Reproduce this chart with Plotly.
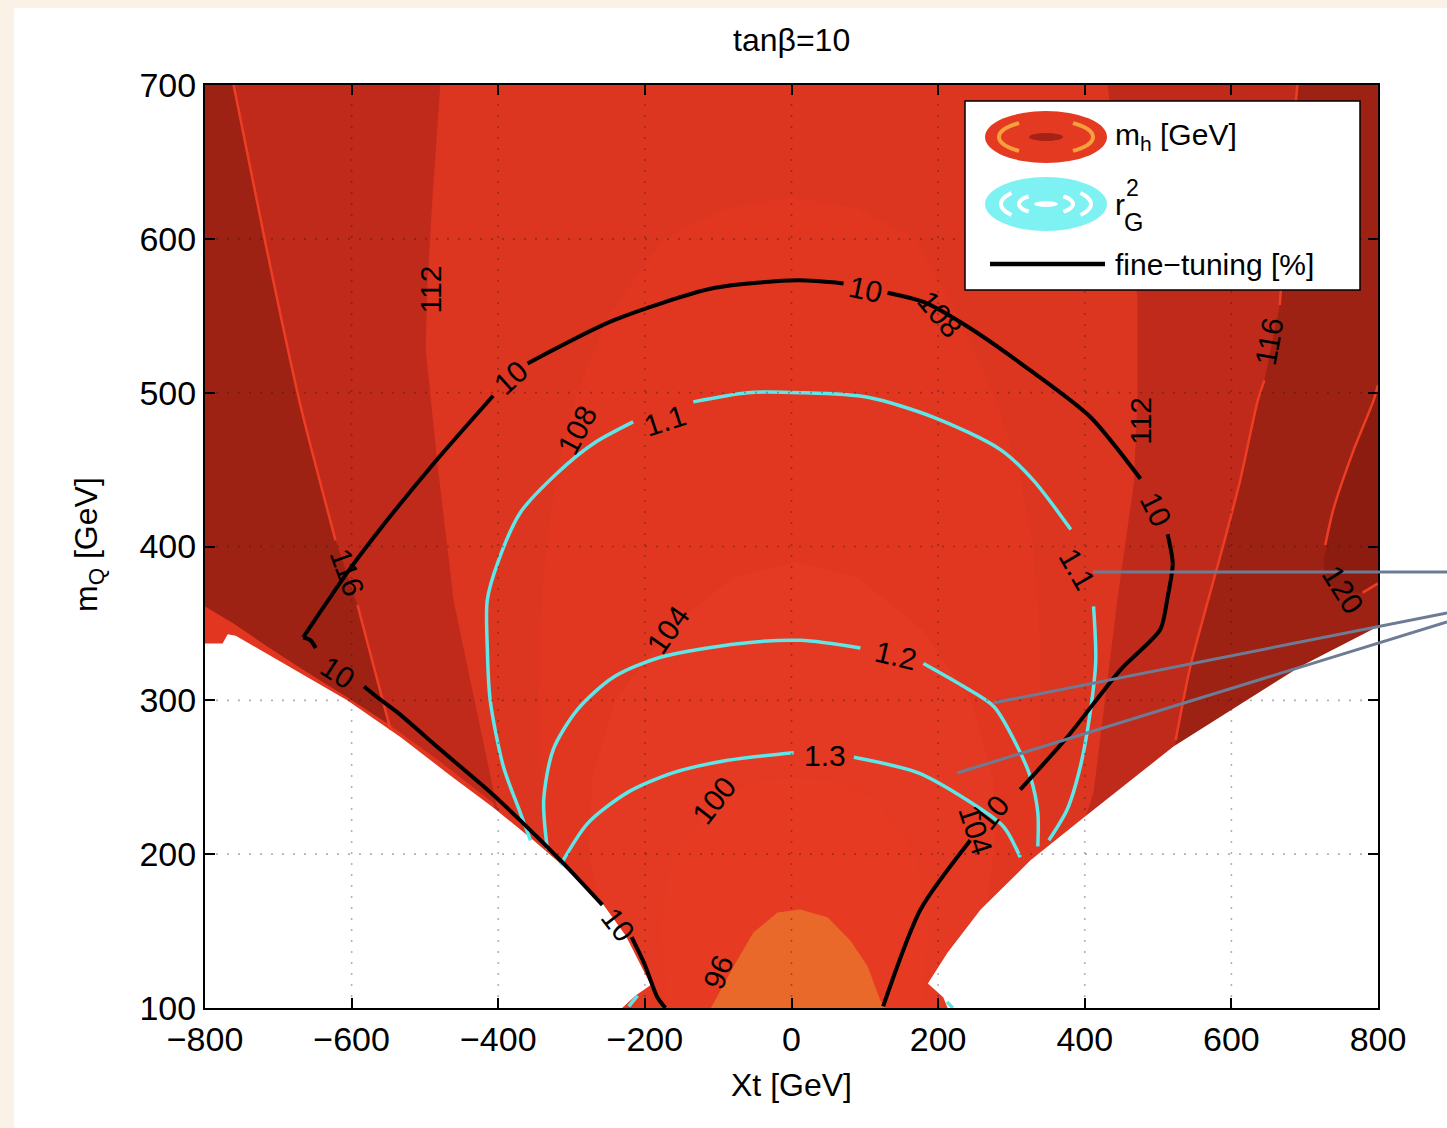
import math
import plotly.graph_objects as go

# ---------------- axis ticks ----------------
x_ticks = [-800, -600, -400, -200, 0, 200, 400, 600, 800]
y_ticks = [100, 200, 300, 400, 500, 600, 700]
x_range = [-800, 800]
y_range = [100, 700]

# ---------------- m_h iso-contours (Xt [GeV], m_Q [GeV]) ----------------
mh96_xt = [-110, -79, -52, -19, 12, 49, 80, 104, 121, 128]
mh96_mq = [100, 127, 149, 162, 164, 159, 144, 127, 105, 100]

mh100_xt = [-168, -180, -163, -104, -50, 5, 60, 115, 170, 187, 178]
mh100_mq = [100, 150, 200, 235, 247, 250, 247, 235, 200, 150, 100]

mh104_xt = [-262, -276, -272, -240, -168, -80, 5, 90, 178, 245, 275, 278, 268]
mh104_mq = [168, 200, 250, 300, 346, 380, 390, 380, 346, 300, 250, 210, 172]

mh108_xt = [-335, -342, -345, -343, -335, -320, -293, -250, -175, -90, 0,
            90, 170, 228, 275, 310, 330, 338, 340, 340, 340]
mh108_mq = [205, 250, 300, 350, 400, 450, 500, 550, 600, 620, 627,
            620, 600, 550, 500, 450, 400, 350, 300, 250, 205]

mh112_left_xt = [-479, -490, -497, -499, -483, -461, -447, -411, -401]
mh112_left_mq = [700, 625, 567, 528, 454, 365, 333, 250, 229]
mh112_right_xt = [401, 412, 431, 445, 467, 472, 472, 452, 431]
mh112_right_mq = [224, 240, 313, 367, 441, 495, 562, 625, 700]

mh116_left_xt = [-761, -717, -670, -622, None, -592, -547]
mh116_left_mq = [700, 596, 492, 404, None, 362, 281]
mh116_right_xt = [524, 544, 589, 612, 636, 645, None, 666, 676, 690]
mh116_right_mq = [274, 322, 401, 443, 495, 508, None, 557, 625, 700]

mh120_xt = [800, 794, 767, 739, 728, None, 779, 800]
mh120_mq = [505, 495, 463, 424, 401, None, 370, 376]
mh120_closed_xt = [800, 794, 767, 739, 726, 728, 749, 776, 800]
mh120_closed_mq = [505, 495, 463, 424, 391, 378, 370, 370, 375]

# ---------------- region without solutions ----------------
void_left_xt = [-800, -800, -776, -769, -758, -670, -606, -533, -465, -406,
                -352, -301, -261, -226, -199, -192, -213, -231]
void_left_mq = [100, 337, 337, 343, 342, 318, 300, 276, 251, 230,
                209, 188, 170, 147, 121, 115, 108, 100]
void_right_xt = [800, 800, 694, 521, 394, 326, 258, 213, 186, 207, 213]
void_right_mq = [100, 348, 322, 270, 222, 196, 164, 136, 116, 107, 100]
edge_left_xt = [-800, -761, -715, -670, -606, -551, -479, -406, -406, -800]
edge_left_mq = [361, 350, 335, 321, 302, 285, 260, 233, 100, 100]

# ---------------- r_G^2 contours ----------------
rg11_xt = [-356, -370, -393, -411, -415, -415, -401, -370, -319, -270, -216, None,
           -134, -60, 12, 104, 194, 285, 330, 381, None,
           412, 415, 408, 394, 376, 351, None, -222, -210, None, 212, 220]
rg11_mq = [209, 227, 257, 300, 335, 365, 389, 422, 448, 467, 481, None,
           494, 500, 500, 497, 484, 463, 443, 411, None,
           361, 326, 294, 257, 229, 209, None, 101, 108, None, 104, 100]
rg12_xt = [-333, -338, -325, -292, -243, -179, -70, 12, 94, None,
           180, 235, 276, 308, 326, 336, 336]
rg12_mq = [203, 235, 268, 294, 315, 328, 337, 339, 334, None,
           324, 309, 296, 270, 250, 227, 205]
rg13_xt = [-315, -278, -224, -161, -87, 3, None, 85, 172, 240, 289, 312]
rg13_mq = [193, 220, 240, 253, 261, 266, None, 263, 253, 235, 218, 198]

# ---------------- fine-tuning 10% contour ----------------
ft10_xt = [-172, -183, -200, -218, None, -258, -311, -370, -415, -479, -537, -565, -583, None,
           -649, -656, -666, None, -666, -606, -565, -488, -407, None,
           -360, -243, -106, 8, 71, None, 131, 180, 240, 330, 408, 476, None,
           513, 520, 513, 503, 449, 376, 312, None, 244, 176, 125]
ft10_mq = [100, 107, 128, 146, None, 167, 194, 222, 242, 268, 292, 302, 309, None,
           334, 339, 341, None, 341, 383, 409, 454, 498, None,
           519, 547, 568, 573, 571, None, 565, 559, 543, 513, 484, 444, None,
           408, 389, 367, 346, 320, 276, 242, None, 209, 164, 101]

# ---------------- contour labels ----------------
mh_lab_text = ["112", "112", "116", "116", "120", "108", "108", "104", "104", "100", "96"]
mh_lab_xt = [-492, 476, 652, -606, 752, -292, 203, -168, 251, -106, -100]
mh_lab_mq = [567, 482, 533, 383, 372, 476, 551, 346, 216, 235, 123]
mh_lab_ang = [-90, -90, -80, 70, 58, -62, 50, -55, 72, -52, -68]

ft_lab_xt = [-383, 101, 497, -619, -237, 274]
ft_lab_mq = [510, 567, 424, 318, 154, 227]
ft_lab_ang = [-42, 12, 63, 33, 52, -52]

rg_lab_text = ["1.1", "1.1", "1.2", "1.3"]
rg_lab_xt = [-172, 390, 142, 46]
rg_lab_mq = [482, 385, 329, 264]
rg_lab_ang = [-18, 60, 13, 0]

# ---------------- colours ----------------
C_GT120 = "#8c1c10"
C_116 = "#9e2214"
C_112 = "#c02a1a"
C_108 = "#dc3520"
C_104 = "#e13721"
C_100 = "#e43922"
C_96 = "#e63b22"
C_LT96 = "#e8692a"
C_LINE = "#ee3d24"
CYAN = "#5fe6e8"
FONT = "Liberation Sans, Arial, sans-serif"

# figure geometry in pixels
W, H = 1447, 1128
ML, MR, MT, MB = 205, 69, 85, 120
PW, PH = W - ML - MR, H - MT - MB


def fx(p):
    return (p - ML) / PW


def fy(p):
    return (H - MB - p) / PH


fig = go.Figure()


def region(xs, ys, color):
    fig.add_trace(go.Scatter(x=xs, y=ys, mode="lines", fill="toself",
                             fillcolor=color, line=dict(width=0, color=color),
                             hoverinfo="skip", showlegend=False))


def curve(xs, ys, color, width, smooth=0.0):
    line = dict(color=color, width=width)
    if smooth:
        line.update(shape="spline", smoothing=smooth)
    fig.add_trace(go.Scatter(x=xs, y=ys, mode="lines", connectgaps=False,
                             line=line, hoverinfo="skip", showlegend=False))


# filled m_h bands, outermost first
region([x_range[0], x_range[1], x_range[1], x_range[0]],
       [y_range[0], y_range[0], y_range[1], y_range[1]], C_116)
region(mh120_closed_xt, mh120_closed_mq, C_GT120)
lx = [v for v in mh116_left_xt if v is not None]
ly = [v for v in mh116_left_mq if v is not None]
rx = [v for v in mh116_right_xt if v is not None]
ry = [v for v in mh116_right_mq if v is not None]
region(lx + [lx[-1], rx[0]] + rx, ly + [100, 100] + ry, C_112)
region(mh112_left_xt + [mh112_left_xt[-1], mh112_right_xt[0]] + mh112_right_xt,
       mh112_left_mq + [100, 100] + mh112_right_mq, C_108)
region(mh108_xt + [mh108_xt[-1], mh108_xt[0]], mh108_mq + [100, 100], C_104)
region(mh104_xt + [mh104_xt[-1], mh104_xt[0]], mh104_mq + [100, 100], C_100)
region(mh100_xt, mh100_mq, C_96)
region(mh96_xt, mh96_mq, C_LT96)

# boundary of the allowed region
region(edge_left_xt, edge_left_mq, "#e23620")
region(void_left_xt, void_left_mq, "white")
region(void_right_xt, void_right_mq, "white")

# thin iso-lines of the heavy bands
curve(mh116_left_xt, mh116_left_mq, C_LINE, 2.5, 0.6)
curve(mh116_right_xt, mh116_right_mq, C_LINE, 2.5, 0.6)
curve(mh120_xt, mh120_mq, C_LINE, 2.5, 0.6)

# r_G^2 and fine-tuning contours
curve(rg11_xt, rg11_mq, CYAN, 3.5, 0.8)
curve(rg12_xt, rg12_mq, CYAN, 3.5, 0.8)
curve(rg13_xt, rg13_mq, CYAN, 3.5, 0.8)
curve(ft10_xt, ft10_mq, "black", 4, 0.7)

annotations = []


def label(x, y, text, ang, size=30, xref="x", yref="y", xanchor="center"):
    annotations.append(dict(x=x, y=y, xref=xref, yref=yref, text=text, textangle=ang,
                            showarrow=False, xanchor=xanchor, yanchor="middle",
                            font=dict(family=FONT, size=size, color="black")))


for t, x, y, a in zip(mh_lab_text, mh_lab_xt, mh_lab_mq, mh_lab_ang):
    label(x, y, t, a)
for x, y, a in zip(ft_lab_xt, ft_lab_mq, ft_lab_ang):
    label(x, y, "10", a)
for t, x, y, a in zip(rg_lab_text, rg_lab_xt, rg_lab_mq, rg_lab_ang):
    label(x, y, t, a)

# title and axis titles
label(fx(791), fy(40), "tan\u03b2=10", 0, size=32, xref="paper", yref="paper")
label(fx(791), fy(1085), "Xt [GeV]", 0, size=32, xref="paper", yref="paper")
label(fx(88), fy(545), "m<sub>Q</sub> [GeV]", -90, size=32, xref="paper", yref="paper")

shapes = []
# white panel on the cream page
shapes.append(dict(type="rect", xref="paper", yref="paper", x0=fx(14), x1=fx(W + 5),
                   y0=fy(H + 5), y1=fy(8), fillcolor="white", line=dict(width=0),
                   layer="below"))

# dotted grid
for v in x_ticks[1:-1]:
    shapes.append(dict(type="line", xref="x", yref="paper", x0=v, x1=v, y0=0, y1=1,
                       line=dict(color="rgba(20,20,20,0.32)", width=1.6, dash="2px,9px"),
                       layer="above"))
for v in y_ticks[1:-1]:
    shapes.append(dict(type="line", xref="paper", yref="y", x0=0, x1=1, y0=v, y1=v,
                       line=dict(color="rgba(20,20,20,0.32)", width=1.6, dash="2px,9px"),
                       layer="above"))

# legend box
shapes.append(dict(type="rect", xref="paper", yref="paper", x0=fx(965), x1=fx(1360),
                   y0=fy(290), y1=fy(101), fillcolor="white",
                   line=dict(color="black", width=1.5), layer="above"))


def ellipse(cx, cy, rx_, ry_, fill):
    shapes.append(dict(type="circle", xref="paper", yref="paper",
                       x0=fx(cx - rx_), x1=fx(cx + rx_), y0=fy(cy + ry_), y1=fy(cy - ry_),
                       fillcolor=fill, line=dict(color=fill, width=0), layer="above"))


def arc(cx, cy, rx_, ry_, a0, a1, color, lw):
    pts = []
    n = 16
    for i in range(n + 1):
        t = math.radians(a0 + (a1 - a0) * i / n)
        pts.append((fx(cx + rx_ * math.cos(t)), fy(cy - ry_ * math.sin(t))))
    path = "M " + " L ".join(f"{a:.5f},{b:.5f}" for a, b in pts)
    shapes.append(dict(type="path", xref="paper", yref="paper", path=path,
                       line=dict(color=color, width=lw), layer="above"))


# m_h key
ellipse(1046, 137, 61, 26, "#e43a22")
arc(1046, 137, 47, 17, 125, 235, "#f4a03c", 4)
arc(1046, 137, 47, 17, -55, 55, "#f4a03c", 4)
ellipse(1046, 137, 17, 4, "#a52315")
# r_G^2 key
ellipse(1046, 204, 61, 27, "#7ef1f3")
arc(1046, 204, 45, 17, 140, 220, "white", 4)
arc(1046, 204, 45, 17, -40, 40, "white", 4)
arc(1046, 204, 27, 10, 130, 230, "white", 4)
arc(1046, 204, 27, 10, -50, 50, "white", 4)
ellipse(1046, 204, 12, 3, "white")
# fine-tuning key
shapes.append(dict(type="line", xref="paper", yref="paper", x0=fx(990), x1=fx(1105),
                   y0=fy(264), y1=fy(264), line=dict(color="black", width=4.5),
                   layer="above"))

label(fx(1113), fy(136), "m<sub>h</sub> [GeV]", 0, size=30, xref="paper", yref="paper",
      xanchor="left")
label(fx(1113), fy(205), "r", 0, size=30, xref="paper", yref="paper", xanchor="left")
label(fx(1124), fy(188), "2", 0, size=23, xref="paper", yref="paper", xanchor="left")
label(fx(1122), fy(222), "G", 0, size=25, xref="paper", yref="paper", xanchor="left")
label(fx(1113), fy(265), "fine\u2212tuning [%]", 0, size=30, xref="paper", yref="paper",
      xanchor="left")

# pointer lines at the right edge
for (x0, y0, x1, y1) in [(1447, 572, 1093, 572), (1447, 613, 993, 703), (1447, 622, 957, 773)]:
    shapes.append(dict(type="line", xref="paper", yref="paper", x0=fx(x0), y0=fy(y0),
                       x1=fx(x1), y1=fy(y1), line=dict(color="#6d7c94", width=3),
                       layer="above"))

axis_common = dict(ticks="inside", ticklen=10, tickwidth=1.5, tickcolor="black",
                   showline=True, linecolor="black", linewidth=2, mirror="ticks",
                   showgrid=False, zeroline=False, layer="above traces",
                   tickfont=dict(family=FONT, size=34, color="black"))

fig.update_layout(
    width=W, height=H, autosize=False,
    margin=dict(l=ML, r=MR, t=MT, b=MB),
    paper_bgcolor="#fbf2e7", plot_bgcolor=C_116,
    xaxis=dict(range=x_range, tickvals=x_ticks, **axis_common),
    yaxis=dict(range=y_range, tickvals=y_ticks, **axis_common),
    annotations=annotations, shapes=shapes, showlegend=False,
)

fig.write_html("out.html")
